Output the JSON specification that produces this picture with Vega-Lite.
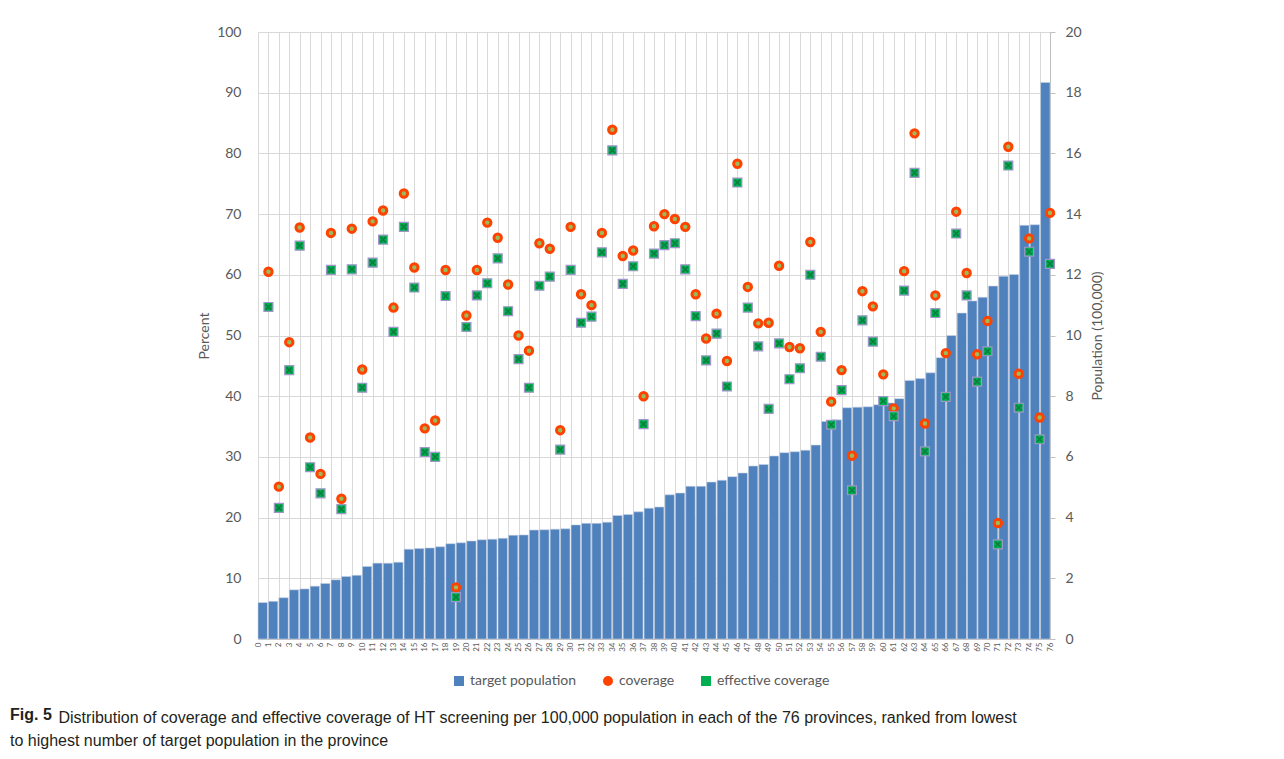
{
  "$schema": "https://vega.github.io/schema/vega-lite/v6.json",
  "width": 792,
  "height": 607,
  "autosize": {"type": "none"},
  "padding": {"left": 258, "top": 32, "right": 234, "bottom": 120},
  "background": "white",
  "config": {
    "font": "Lato",
    "view": {"stroke": null},
    "axis": {
      "labelFont": "Lato",
      "titleFont": "Lato",
      "labelColor": "#595959",
      "titleColor": "#595959",
      "titleFontWeight": "normal",
      "gridColor": "#d9d9d9",
      "gridWidth": 1,
      "domainColor": "#bfbfbf",
      "tickColor": "#bfbfbf"
    }
  },
  "title": {
    "text": "Fig. 5",
    "subtitle": "to highest number of target population in the province",
    "orient": "bottom",
    "anchor": "start",
    "frame": "group",
    "dx": -248,
    "offset": -18,
    "font": "Liberation Sans",
    "fontSize": 16,
    "fontWeight": "bold",
    "color": "#231f20",
    "subtitleFont": "Liberation Sans",
    "subtitleFontSize": 16,
    "subtitleColor": "#231f20",
    "subtitlePadding": 10
  },
  "data": {
    "values": [
      {"province": 1, "population": 1.20, "coverage": 60.5, "effective": 54.7},
      {"province": 2, "population": 1.24, "coverage": 25.1, "effective": 21.6},
      {"province": 3, "population": 1.36, "coverage": 48.9, "effective": 44.3},
      {"province": 4, "population": 1.62, "coverage": 67.8, "effective": 64.8},
      {"province": 5, "population": 1.65, "coverage": 33.2, "effective": 28.3},
      {"province": 6, "population": 1.74, "coverage": 27.2, "effective": 24.0},
      {"province": 7, "population": 1.83, "coverage": 66.9, "effective": 60.8},
      {"province": 8, "population": 1.95, "coverage": 23.1, "effective": 21.4},
      {"province": 9, "population": 2.06, "coverage": 67.6, "effective": 60.9},
      {"province": 10, "population": 2.10, "coverage": 44.4, "effective": 41.4},
      {"province": 11, "population": 2.39, "coverage": 68.8, "effective": 62.0},
      {"province": 12, "population": 2.50, "coverage": 70.6, "effective": 65.8},
      {"province": 13, "population": 2.50, "coverage": 54.6, "effective": 50.6},
      {"province": 14, "population": 2.53, "coverage": 73.4, "effective": 67.9},
      {"province": 15, "population": 2.96, "coverage": 61.2, "effective": 57.9},
      {"province": 16, "population": 2.98, "coverage": 34.7, "effective": 30.8},
      {"province": 17, "population": 3.00, "coverage": 36.0, "effective": 30.0},
      {"province": 18, "population": 3.04, "coverage": 60.8, "effective": 56.5},
      {"province": 19, "population": 3.14, "coverage": 8.5, "effective": 6.9},
      {"province": 20, "population": 3.17, "coverage": 53.3, "effective": 51.4},
      {"province": 21, "population": 3.23, "coverage": 60.8, "effective": 56.6},
      {"province": 22, "population": 3.27, "coverage": 68.6, "effective": 58.6},
      {"province": 23, "population": 3.29, "coverage": 66.1, "effective": 62.7},
      {"province": 24, "population": 3.32, "coverage": 58.4, "effective": 54.0},
      {"province": 25, "population": 3.42, "coverage": 50.0, "effective": 46.1},
      {"province": 26, "population": 3.43, "coverage": 47.5, "effective": 41.4},
      {"province": 27, "population": 3.59, "coverage": 65.2, "effective": 58.2},
      {"province": 28, "population": 3.60, "coverage": 64.3, "effective": 59.7},
      {"province": 29, "population": 3.62, "coverage": 34.4, "effective": 31.2},
      {"province": 30, "population": 3.63, "coverage": 67.9, "effective": 60.8},
      {"province": 31, "population": 3.76, "coverage": 56.8, "effective": 52.1},
      {"province": 32, "population": 3.81, "coverage": 55.0, "effective": 53.1},
      {"province": 33, "population": 3.81, "coverage": 66.9, "effective": 63.7},
      {"province": 34, "population": 3.85, "coverage": 83.9, "effective": 80.5},
      {"province": 35, "population": 4.07, "coverage": 63.1, "effective": 58.5},
      {"province": 36, "population": 4.10, "coverage": 64.0, "effective": 61.4},
      {"province": 37, "population": 4.19, "coverage": 40.0, "effective": 35.4},
      {"province": 38, "population": 4.31, "coverage": 68.0, "effective": 63.5},
      {"province": 39, "population": 4.35, "coverage": 70.0, "effective": 64.9},
      {"province": 40, "population": 4.75, "coverage": 69.2, "effective": 65.2},
      {"province": 41, "population": 4.81, "coverage": 67.9, "effective": 60.9},
      {"province": 42, "population": 5.03, "coverage": 56.8, "effective": 53.2},
      {"province": 43, "population": 5.03, "coverage": 49.5, "effective": 45.9},
      {"province": 44, "population": 5.17, "coverage": 53.6, "effective": 50.3},
      {"province": 45, "population": 5.23, "coverage": 45.8, "effective": 41.6},
      {"province": 46, "population": 5.35, "coverage": 78.3, "effective": 75.2},
      {"province": 47, "population": 5.47, "coverage": 58.0, "effective": 54.6},
      {"province": 48, "population": 5.70, "coverage": 52.0, "effective": 48.2},
      {"province": 49, "population": 5.75, "coverage": 52.1, "effective": 37.9},
      {"province": 50, "population": 6.03, "coverage": 61.5, "effective": 48.7},
      {"province": 51, "population": 6.14, "coverage": 48.1, "effective": 42.8},
      {"province": 52, "population": 6.17, "coverage": 47.9, "effective": 44.6},
      {"province": 53, "population": 6.22, "coverage": 65.4, "effective": 60.0},
      {"province": 54, "population": 6.39, "coverage": 50.6, "effective": 46.5},
      {"province": 55, "population": 7.17, "coverage": 39.1, "effective": 35.3},
      {"province": 56, "population": 7.22, "coverage": 44.3, "effective": 41.0},
      {"province": 57, "population": 7.62, "coverage": 30.2, "effective": 24.5},
      {"province": 58, "population": 7.64, "coverage": 57.3, "effective": 52.5},
      {"province": 59, "population": 7.65, "coverage": 54.8, "effective": 49.0},
      {"province": 60, "population": 7.72, "coverage": 43.6, "effective": 39.2},
      {"province": 61, "population": 7.78, "coverage": 38.0, "effective": 36.7},
      {"province": 62, "population": 7.92, "coverage": 60.6, "effective": 57.4},
      {"province": 63, "population": 8.52, "coverage": 83.3, "effective": 76.8},
      {"province": 64, "population": 8.58, "coverage": 35.5, "effective": 30.9},
      {"province": 65, "population": 8.77, "coverage": 56.6, "effective": 53.7},
      {"province": 66, "population": 9.27, "coverage": 47.1, "effective": 39.9},
      {"province": 67, "population": 10.00, "coverage": 70.4, "effective": 66.8},
      {"province": 68, "population": 10.74, "coverage": 60.3, "effective": 56.6},
      {"province": 69, "population": 11.14, "coverage": 46.9, "effective": 42.4},
      {"province": 70, "population": 11.26, "coverage": 52.4, "effective": 47.4},
      {"province": 71, "population": 11.63, "coverage": 19.1, "effective": 15.6},
      {"province": 72, "population": 11.95, "coverage": 81.1, "effective": 78.0},
      {"province": 73, "population": 12.01, "coverage": 43.7, "effective": 38.1},
      {"province": 74, "population": 13.63, "coverage": 66.0, "effective": 63.8},
      {"province": 75, "population": 13.65, "coverage": 36.5, "effective": 32.9},
      {"province": 76, "population": 18.34, "coverage": 70.2, "effective": 61.8}
    ]
  },
  "layer": [
    {
      "mark": {"type": "bar", "stroke": "#c9d3e6", "strokeWidth": 0.6},
      "encoding": {
        "x": {
          "field": "province",
          "type": "ordinal",
          "scale": {"paddingInner": 0.1, "paddingOuter": 0},
          "axis": null
        },
        "y": {
          "field": "population",
          "type": "quantitative",
          "scale": {"domain": [0, 20], "nice": false},
          "axis": {
            "orient": "right",
            "title": "Population (100,000)",
            "titleAngle": 270,
            "titleFontSize": 14,
            "titlePadding": 23,
            "values": [0, 2, 4, 6, 8, 10, 12, 14, 16, 18, 20],
            "labelFontSize": 14,
            "labelPadding": 10,
            "grid": false,
            "domain": true,
            "ticks": true,
            "tickSize": 5
          }
        },
        "color": {
          "datum": "target population",
          "type": "nominal",
          "scale": {
            "domain": ["target population", "coverage", "effective coverage"],
            "range": ["#4f81bd", "#ff4200", "#00b050"]
          },
          "legend": {
            "title": null,
            "orient": "none",
            "direction": "horizontal",
            "legendX": 194,
            "legendY": 642,
            "labelFont": "Lato",
            "labelFontSize": 14,
            "labelColor": "#595959",
            "columnPadding": 24,
            "symbolSize": 100,
            "symbolOffset": 0,
            "symbolStrokeWidth": 0
          }
        }
      }
    },
    {
      "encoding": {
        "x": {
          "field": "province",
          "type": "quantitative",
          "scale": {"domain": [0, 76], "nice": false, "zero": false},
          "axis": {
            "title": "Distribution of coverage and effective coverage of HT screening per 100,000 population in each of the 76 provinces, ranked from lowest",
            "titleFont": "Liberation Sans",
            "titleFontSize": 16,
            "titleColor": "#231f20",
            "titleAlign": "left",
            "titleAnchor": "start",
            "titleBaseline": "alphabetic",
            "titleX": -200,
            "titleY": 83,
            "values": [0,1,2,3,4,5,6,7,8,9,10,11,12,13,14,15,16,17,18,19,20,21,22,23,24,25,26,27,28,29,30,31,32,33,34,35,36,37,38,39,40,41,42,43,44,45,46,47,48,49,50,51,52,53,54,55,56,57,58,59,60,61,62,63,64,65,66,67,68,69,70,71,72,73,74,75,76],
            "labelAngle": 270,
            "labelFontSize": 8,
            "labelPadding": 3,
            "labelOverlap": false,
            "labelFlush": false,
            "grid": true,
            "domain": true,
            "ticks": false
          }
        }
      },
      "layer": [
        {
          "mark": {"type": "point", "filled": true, "fill": "#9bbb59", "stroke": "#ff4200", "strokeWidth": 3, "size": 55, "opacity": 1},
          "encoding": {
            "y": {
              "field": "coverage",
              "type": "quantitative",
              "scale": {"domain": [0, 100], "nice": false},
              "axis": {
                "title": "Percent",
                "titleFontSize": 14,
                "titlePadding": 5,
                "values": [0, 10, 20, 30, 40, 50, 60, 70, 80, 90, 100],
                "labelFontSize": 14,
                "labelPadding": 17,
                "grid": true,
                "domain": false,
                "ticks": false
              }
            },
            "shape": {
              "datum": "coverage",
              "type": "nominal",
              "scale": {
                "domain": ["target population", "coverage", "effective coverage"],
                "range": ["square", "circle", "square"]
              },
              "legend": {
                "title": null,
                "orient": "none",
                "direction": "horizontal",
                "legendX": 194,
                "legendY": 642,
                "labelFont": "Lato",
                "labelFontSize": 14,
                "labelColor": "#595959",
                "columnPadding": 24,
                "symbolSize": 100,
                "symbolOffset": 0,
                "symbolStrokeWidth": 0
              }
            }
          }
        },
        {
          "mark": {"type": "point", "filled": true, "fill": "#00b050", "stroke": "#9f95c8", "strokeWidth": 1.2, "size": 80, "opacity": 1},
          "encoding": {
            "y": {"field": "effective", "type": "quantitative"},
            "shape": {"datum": "effective coverage", "type": "nominal"}
          }
        },
        {
          "mark": {"type": "point", "shape": "M-1,-1L1,1M1,-1L-1,1", "filled": false, "stroke": "#0a7f3f", "strokeWidth": 1.6, "size": 30, "opacity": 1},
          "encoding": {
            "y": {"field": "effective", "type": "quantitative"}
          }
        }
      ]
    }
  ],
  "resolve": {"scale": {"x": "independent", "y": "independent"}}
}
